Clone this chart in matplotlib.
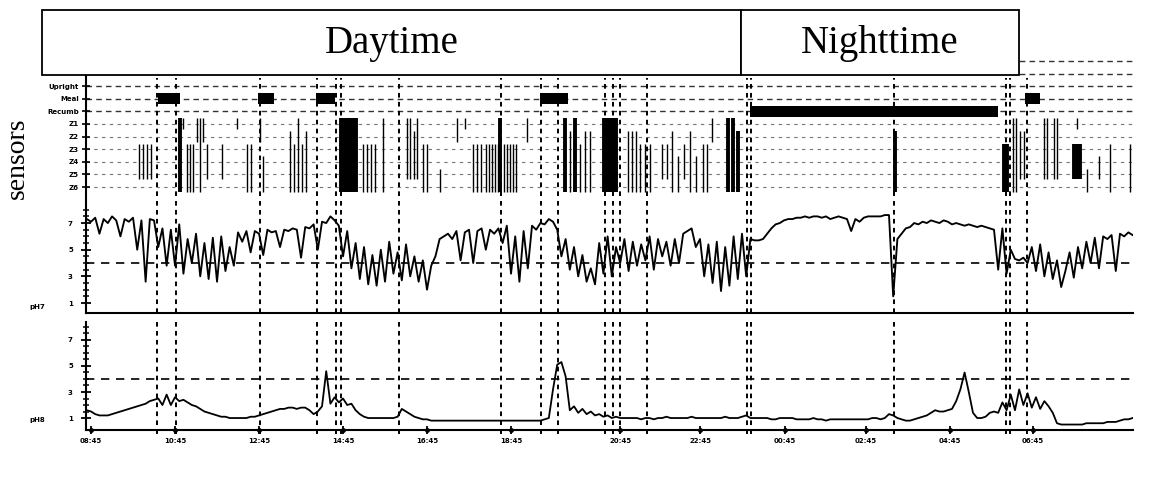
import matplotlib.pyplot as plt
from matplotlib.patches import Rectangle

W, H = 1156, 479

# x axis: hours after 08:45, as laid out on the printed strip
tick_pos = [0, 2, 4, 6, 8, 10, 12.6, 14.5, 16.52, 18.45, 20.45, 22.43]
tick_lab = ["08:45", "10:45", "12:45", "14:45", "16:45", "18:45",
            "20:45", "22:45", "00:45", "02:45", "04:45", "06:45"]

# event markers (dashed verticals)
event_t = [1.57, 2.02, 4.02, 5.38, 5.83, 5.95, 7.33, 9.76, 10.71, 11.12,
           12.24, 12.43, 12.60, 13.24, 15.62, 15.71, 19.12, 21.79, 21.88, 22.29]

meal_start = [1.60, 3.98, 5.36, 10.69, 22.24]
meal_end = [2.12, 4.36, 5.81, 11.36, 22.60]
recumb_start = [15.69]
recumb_end = [21.60]

track_labels = ["", "", "Upright", "Meal", "Recumb", "Z1", "Z2", "Z3", "Z4", "Z5", "Z6"]

# impedance events: time, first and last channel, heavy mark
z_time = [1.14, 1.24, 1.33, 1.43, 2.12, 2.19, 2.29, 2.36, 2.43, 2.52, 2.60, 2.67, 2.76,
          3.12, 3.48, 3.71, 3.81, 4.02, 4.10, 4.74, 4.83, 4.93, 5.02, 5.12,
          5.95, 6.02, 6.10, 6.17, 6.24, 6.31, 6.48, 6.57, 6.67, 6.76, 6.95,
          7.52, 7.60, 7.69, 7.76, 7.90, 8.00, 8.31, 8.71, 8.90, 9.10, 9.19, 9.29,
          9.40, 9.48, 9.55, 9.62, 9.69, 9.74, 9.83, 9.90, 9.98, 10.05, 10.12, 10.38,
          11.29, 11.40, 11.52, 11.64, 11.76, 11.88, 12.21, 12.29, 12.36, 12.43, 12.50,
          12.79, 12.88, 12.98, 13.07, 13.19, 13.31, 13.60, 13.71, 13.83, 13.98, 14.12,
          14.26, 14.40, 14.57, 14.67, 14.79, 15.17, 15.29, 15.40,
          19.14, 21.74, 21.81, 21.95, 22.02, 22.12, 22.21, 22.69, 22.76, 22.93, 23.00,
          23.40, 23.48, 23.55, 23.48, 23.71, 24.00, 24.26, 24.74]
z_top = [3, 3, 3, 3, 1, 1, 3, 3, 3, 1, 1, 1, 3,
         3, 1, 3, 3, 1, 4, 2, 3, 1, 3, 2,
         1, 1, 1, 1, 1, 1, 3, 3, 3, 3, 1,
         1, 1, 2, 1, 3, 3, 5, 1, 1, 3, 3, 3,
         3, 3, 3, 3, 3, 1, 3, 3, 3, 3, 3, 1,
         1, 2, 1, 3, 2, 2, 1, 1, 1, 1, 1,
         2, 2, 2, 3, 3, 3, 3, 3, 2, 4, 3,
         2, 4, 3, 3, 1, 1, 1, 2,
         2, 3, 3, 1, 1, 2, 2, 1, 1, 1, 1,
         3, 3, 3, 1, 5, 4, 3, 3]
z_bot = [5, 5, 5, 5, 6, 1, 6, 6, 6, 2, 6, 2, 5,
         5, 1, 6, 6, 2, 6, 6, 6, 6, 6, 6,
         6, 6, 6, 6, 6, 6, 6, 6, 6, 6, 6,
         5, 5, 5, 5, 6, 6, 6, 2, 1, 6, 6, 6,
         6, 6, 6, 6, 6, 6, 6, 6, 6, 6, 6, 2,
         6, 6, 6, 6, 6, 6, 6, 6, 6, 6, 6,
         6, 6, 6, 6, 6, 6, 5, 5, 6, 6, 5,
         6, 6, 6, 6, 2, 6, 6, 6,
         6, 6, 6, 6, 6, 5, 5, 5, 5, 5, 5,
         5, 5, 5, 1, 6, 5, 6, 6]
z_heavy = [0, 0, 0, 0, 1, 0, 0, 0, 0, 0, 0, 0, 0,
           0, 0, 0, 0, 0, 0, 0, 0, 0, 0, 0,
           1, 1, 1, 1, 1, 1, 0, 0, 0, 0, 0,
           0, 0, 0, 0, 0, 0, 0, 0, 0, 0, 0, 0,
           0, 0, 0, 0, 0, 1, 0, 0, 0, 0, 0, 0,
           1, 0, 1, 0, 0, 0, 1, 1, 1, 1, 1,
           0, 0, 0, 0, 0, 0, 0, 0, 0, 0, 0,
           0, 0, 0, 0, 0, 1, 1, 1,
           1, 1, 1, 0, 0, 0, 0, 0, 0, 0, 0,
           1, 1, 1, 0, 0, 0, 0, 0]

# pH traces, one reading every 0.1 h starting at -0.1 h
ph_t0 = -0.1
ph_dt = 0.1
ph7 = [7.3, 7.1, 7.4, 6.2, 7.3, 7.0, 7.5, 7.2, 6.0, 7.3,
       7.1, 7.4, 5.0, 7.2, 2.6, 7.3, 7.2, 5.2, 6.6, 3.8,
       6.5, 3.8, 6.9, 3.2, 5.8, 4.0, 6.2, 3.0, 5.5, 2.8,
       5.9, 2.6, 6.0, 3.4, 5.2, 3.8, 6.3, 5.6, 6.4, 4.8,
       6.4, 6.2, 4.6, 6.5, 6.3, 6.4, 5.2, 6.5, 6.4, 6.6,
       6.5, 4.4, 6.7, 6.6, 6.9, 5.0, 7.1, 7.0, 7.5, 7.2,
       6.8, 4.5, 6.4, 3.6, 5.5, 2.8, 5.2, 2.4, 4.6, 2.3,
       5.0, 2.6, 5.6, 3.2, 4.8, 2.7, 5.4, 3.0, 4.5, 2.6,
       4.2, 2.0, 3.8, 4.5, 5.8, 6.0, 6.2, 5.8, 6.4, 4.2,
       6.3, 6.5, 4.0, 6.4, 6.6, 5.0, 6.5, 6.2, 6.6, 5.5,
       6.8, 3.2, 6.0, 2.6, 6.4, 3.6, 6.8, 6.5, 7.0, 6.9,
       7.3, 7.1, 6.5, 4.5, 5.8, 3.5, 5.2, 3.0, 4.6, 2.6,
       3.6, 2.4, 5.5, 3.2, 6.0, 3.0, 5.2, 4.0, 5.8, 3.4,
       5.6, 3.8, 5.4, 4.2, 6.0, 3.5, 5.8, 4.5, 5.6, 3.8,
       5.8, 4.0, 6.2, 6.4, 6.6, 5.2, 5.8, 3.0, 5.4, 2.5,
       5.6, 1.9, 5.2, 2.3, 6.0, 2.8, 6.2, 3.0, 5.8, 5.7,
       5.7, 5.8, 6.2, 6.6, 6.9, 7.0, 7.2, 7.3, 7.3, 7.4,
       7.4, 7.5, 7.4, 7.5, 7.5, 7.4, 7.5, 7.3, 7.4, 7.5,
       7.4, 7.3, 6.4, 7.3, 7.1, 7.4, 7.5, 7.5, 7.5, 7.5,
       7.6, 7.6, 1.5, 5.8, 6.2, 6.6, 6.7, 7.0, 6.9, 7.1,
       7.0, 7.2, 7.1, 7.0, 7.2, 7.1, 6.9, 7.0, 6.9, 6.8,
       6.9, 6.8, 6.7, 6.8, 6.7, 6.6, 6.5, 3.5, 6.6, 3.2,
       5.0, 4.3, 4.2, 4.4, 4.0, 5.2, 3.4, 5.4, 3.0, 4.8,
       2.8, 4.2, 2.2, 3.4, 4.8, 2.9, 5.2, 3.6, 5.6, 4.0,
       5.9, 3.6, 6.0, 5.8, 6.1, 3.4, 6.2, 6.0, 6.3, 6.1]
ph8 = [1.6, 1.5, 1.3, 1.2, 1.2, 1.2, 1.3, 1.4, 1.5, 1.6,
       1.7, 1.8, 1.9, 2.0, 2.1, 2.3, 2.4, 2.5, 2.0, 2.8,
       2.0, 2.6, 2.3, 2.4, 2.2, 2.0, 1.9, 1.7, 1.5, 1.4,
       1.3, 1.2, 1.1, 1.1, 1.0, 1.0, 1.0, 1.0, 1.0, 1.1,
       1.1, 1.2, 1.3, 1.4, 1.5, 1.6, 1.7, 1.7, 1.8, 1.8,
       1.7, 1.8, 1.8, 1.6, 1.3, 1.5, 1.9, 4.6, 2.1, 2.6,
       2.2, 2.5, 2.0, 2.1, 1.6, 1.3, 1.1, 1.0, 1.0, 1.0,
       1.0, 1.0, 1.0, 1.0, 1.1, 1.7, 1.5, 1.3, 1.1, 1.0,
       0.9, 0.9, 0.8, 0.8, 0.8, 0.8, 0.8, 0.8, 0.8, 0.8,
       0.8, 0.8, 0.8, 0.8, 0.8, 0.8, 0.8, 0.8, 0.8, 0.8,
       0.8, 0.8, 0.8, 0.8, 0.8, 0.8, 0.8, 0.8, 0.8, 0.9,
       1.0, 3.2, 5.1, 5.3, 4.2, 1.6, 1.9, 1.4, 1.7, 1.3,
       1.5, 1.2, 1.3, 1.1, 1.2, 1.0, 1.1, 1.0, 1.0, 1.0,
       1.0, 1.0, 0.9, 1.0, 1.0, 0.9, 1.0, 1.0, 1.1, 1.0,
       1.0, 1.0, 1.0, 1.0, 1.1, 1.0, 1.0, 1.0, 1.0, 1.0,
       1.0, 1.0, 1.1, 1.0, 1.0, 1.0, 1.1, 1.2, 1.0, 1.0,
       1.0, 1.0, 1.0, 0.9, 0.9, 1.0, 1.0, 1.0, 1.0, 0.9,
       0.9, 0.9, 0.9, 1.0, 0.9, 0.9, 0.8, 0.9, 0.9, 0.9,
       0.9, 0.9, 0.9, 0.9, 0.9, 0.9, 0.9, 1.0, 1.0, 0.9,
       1.0, 1.3, 1.2, 1.0, 0.9, 0.8, 0.8, 0.9, 1.0, 1.1,
       1.2, 1.4, 1.6, 1.5, 1.5, 1.6, 1.7, 2.3, 3.2, 4.5,
       3.0, 1.4, 1.0, 1.0, 1.1, 1.4, 1.5, 1.4, 2.2, 1.6,
       2.8, 1.6, 3.2, 2.0, 2.9, 1.8, 2.6, 1.7, 2.3, 1.9,
       1.4, 0.6, 0.5, 0.5, 0.5, 0.5, 0.5, 0.5, 0.6, 0.6,
       0.6, 0.6, 0.6, 0.7, 0.7, 0.7, 0.8, 0.9, 0.9, 1.0]

XLIM = (-0.12, 24.81)
SMALL = dict(fontsize=5, fontweight="bold", family="DejaVu Sans")


def px_axes(fig, x0, y0, x1, y1):
    return fig.add_axes([x0 / W, 1 - y1 / H, (x1 - x0) / W, (y1 - y0) / H])


def draw_events(ax, lo=0.0, hi=1.0):
    for t in event_t:
        ax.axvline(t, ymin=lo, ymax=hi, color="black", lw=1.4,
                   dashes=(2.4, 2.2), zorder=3, clip_on=False)


def style_ph(ax, name, ylab_px):
    ax.set_xlim(*XLIM)
    for s in ["top", "right"]:
        ax.spines[s].set_visible(False)
    for s in ["left", "bottom"]:
        ax.spines[s].set_linewidth(1.5)
    ax.set_yticks([1, 3, 5, 7])
    ax.set_yticklabels(["1", "3", "5", "7"], **SMALL)
    ax.set_yticks([1.5, 2, 2.5, 3.5, 4, 4.5, 5.5, 6, 6.5, 7.5, 8], minor=True)
    ax.tick_params(axis="y", which="major", direction="inout", length=7, width=1.3, pad=6)
    ax.tick_params(axis="y", which="minor", direction="inout", length=5, width=1.1)
    ax.axhline(4, color="black", lw=1.2, dashes=(5, 4), zorder=2)
    fig.text(37 / W, 1 - ylab_px / H, name, ha="center", va="center", **SMALL)


fig = plt.figure(figsize=(W / 100, H / 100), dpi=100)
fig.patch.set_facecolor("white")

# event / impedance tracks
ax0 = px_axes(fig, 86, 52, 1133, 196)
ax0.set_xlim(*XLIM)
ax0.set_ylim(10.71, -0.71)
for i in range(len(track_labels)):
    ax0.axhline(i, color="0.2" if i < 5 else "0.45", lw=1.0 if i < 5 else 0.8,
                dashes=(4, 3) if i < 5 else (3, 4), zorder=1)
for s in ["top", "right", "bottom"]:
    ax0.spines[s].set_visible(False)
ax0.spines["left"].set_linewidth(1.5)
ax0.set_xticks([])
ax0.set_yticks(range(2, len(track_labels)))
ax0.set_yticklabels(track_labels[2:], **SMALL)
ax0.tick_params(axis="y", direction="inout", length=6, width=1.2, pad=2)

ax0.broken_barh([(s, e - s) for s, e in zip(meal_start, meal_end)], (2.55, 0.9),
                facecolor="black", zorder=4)
ax0.broken_barh([(s, e - s) for s, e in zip(recumb_start, recumb_end)], (3.6, 0.85),
                facecolor="black", zorder=4)
for t, a, b, hv in zip(z_time, z_top, z_bot, z_heavy):
    ax0.vlines(t, 4 + a - 0.45, 4 + b + 0.4, color="black",
               lw=2.8 if hv else 1.0, zorder=4)
draw_events(ax0, hi=0.82)

# pH channel 7
ax1 = px_axes(fig, 86, 198, 1133, 313)
ax1.set_ylim(0.25, 8.88)
t7 = [ph_t0 + ph_dt * i for i in range(len(ph7))]
ax1.plot(t7, ph7, color="black", lw=1.35, zorder=4)
style_ph(ax1, "pH7", 307)
ax1.set_xticks([])
draw_events(ax1)

# pH channel 8
ax2 = px_axes(fig, 86, 322, 1133, 430)
ax2.set_ylim(0.08, 8.38)
t8 = [ph_t0 + ph_dt * i for i in range(len(ph8))]
ax2.plot(t8, ph8, color="black", lw=1.3, zorder=4)
style_ph(ax2, "pH8", 420)
ax2.set_xticks(tick_pos)
ax2.set_xticklabels(tick_lab, **SMALL)
ax2.tick_params(axis="x", direction="inout", length=6, width=1.3, pad=3)
ax2.plot(tick_pos, [0.08] * len(tick_pos), "o", ms=2.5, color="black",
         clip_on=False, zorder=5)
draw_events(ax2, lo=-0.04)

# header boxes
for x0, x1, label in [(42, 741, "Daytime"), (741, 1019, "Nighttime")]:
    fig.add_artist(Rectangle((x0 / W, 1 - 75 / H), (x1 - x0) / W, 65 / H,
                             transform=fig.transFigure, facecolor="white",
                             edgecolor="black", lw=1.3, zorder=10))
    fig.text((x0 + x1) / 2 / W, 1 - 44 / H, label, ha="center", va="center",
             fontsize=28, family="Liberation Serif", zorder=11)

fig.text(17 / W, 1 - 158 / H, "sensors", rotation=90, ha="center", va="center",
         fontsize=20, family="Liberation Serif")

fig.savefig("out.png", dpi=100, facecolor="white")
